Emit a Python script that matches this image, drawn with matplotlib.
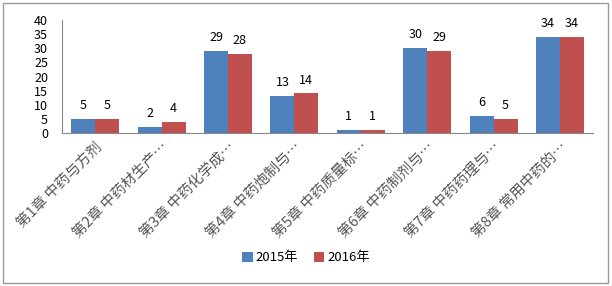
import matplotlib.pyplot as plt
import numpy as np
from matplotlib.patches import Rectangle

plt.rcParams['font.family'] = ['Noto Sans CJK SC', 'DejaVu Sans']

chapters = ["第1章 中药与方剂", "第2章 中药材生产…", "第3章 中药化学成…", "第4章 中药炮制与…",
            "第5章 中药质量标…", "第6章 中药制剂与…", "第7章 中药药理与…", "第8章 常用中药的…"]
vals_2015 = [5, 2, 29, 13, 1, 30, 6, 34]
vals_2016 = [5, 4, 28, 14, 1, 29, 5, 34]
series_names = ["2015年", "2016年"]

fig = plt.figure(figsize=(6.12, 2.86), dpi=100)
ax = fig.add_axes([0.1013, 0.535, 0.868, 0.395])

x = np.arange(len(chapters))
w = 0.36
b1 = ax.bar(x - w / 2, vals_2015, w, color="#4F81BD", label=series_names[0])
b2 = ax.bar(x + w / 2, vals_2016, w, color="#C0504D", label=series_names[1])
for bars in (b1, b2):
    for r in bars:
        ax.annotate(str(int(r.get_height())), (r.get_x() + r.get_width() / 2, r.get_height()),
                    xytext=(0, 5), textcoords="offset points", ha="center", va="bottom",
                    fontsize=9)

ax.set_xlim(-0.5, len(chapters) - 0.5)
ax.set_ylim(0, 40)
ax.set_yticks(range(0, 41, 5))
ax.set_xticks(x)
ax.set_xticklabels(chapters, rotation=45, ha="right", va="top", rotation_mode="anchor",
                   color="#555555")
ax.tick_params(axis="y", length=0, labelsize=9, pad=10)
ax.tick_params(axis="x", length=0, labelsize=10.5, pad=5)
for s in ("top", "right"):
    ax.spines[s].set_visible(False)
for s in ("left", "bottom"):
    ax.spines[s].set_color("#888888")

fig.legend(handles=[b1, b2], loc="center", bbox_to_anchor=(0.5, 0.098), ncol=2,
           frameon=False, fontsize=9.5, handlelength=0.8, handleheight=0.8,
           handletextpad=0.2, columnspacing=1.2)

fig.patches.append(Rectangle((0.005, 0.01), 0.988, 0.978, transform=fig.transFigure,
                             fill=False, edgecolor="#999999", linewidth=1))

fig.savefig("out.png", dpi=100)
